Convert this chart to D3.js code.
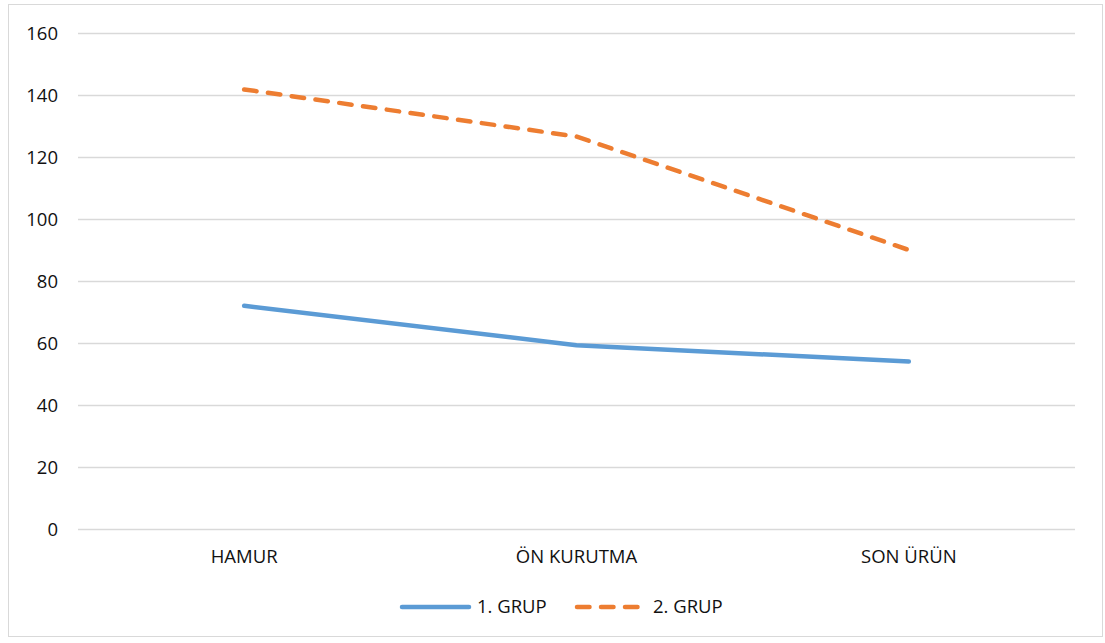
<!DOCTYPE html>
<html><head><meta charset="utf-8">
<script src="https://cdn.jsdelivr.net/npm/d3@7"></script>
<style>body{margin:0;background:#fff;} text{font-family:"Open Sans",sans-serif;fill:#111;}</style>
</head><body><svg id="c" width="1105" height="643"></svg>
<script>
const categories = ["HAMUR", "ÖN KURUTMA", "SON ÜRÜN"];
const grup1 = [72, 59.3, 54];
const grup2 = [141.8, 126.6, 90];
const yTicks = [0, 20, 40, 60, 80, 100, 120, 140, 160];
const seriesNames = ["1. GRUP", "2. GRUP"];

const svg = d3.select("#c");
svg.append("rect").attr("x", 8.5).attr("y", 4.5).attr("width", 1094).attr("height", 632)
  .attr("fill", "#fff").attr("stroke", "#d9d9d9").attr("stroke-width", 1);

const x = d3.scaleBand().domain(categories).range([78, 1075]);
const y = d3.scaleLinear().domain([0, 160]).range([529, 33]);

const g = svg.append("g");
g.selectAll("line.grid").data(yTicks).join("line")
  .attr("x1", 78).attr("x2", 1075)
  .attr("y1", d => Math.round(y(d)) + 0.5).attr("y2", d => Math.round(y(d)) + 0.5)
  .attr("stroke", "#d9d9d9").attr("stroke-width", 1.3);

const fs = "18.5px";
const yAxis = d3.axisLeft(y).tickValues(yTicks).tickSize(0).tickPadding(0);
const ya = svg.append("g").attr("transform", "translate(58,0)").call(yAxis);
ya.select(".domain").remove();
ya.selectAll("text").style("font-size", fs).attr("dy", "0.35em").attr("fill", "#111");

const xAxis = d3.axisBottom(x).tickSize(0).tickPadding(0);
const xa = svg.append("g").attr("transform", "translate(0,563)").call(xAxis);
xa.select(".domain").remove();
xa.selectAll("text").style("font-size", fs).attr("dy", "0").attr("fill", "#111");

const line = d3.line().x((d, i) => x(categories[i]) + x.bandwidth() / 2).y(d => y(d)).curve(d3.curveLinear);

svg.append("path").attr("d", line(grup1)).attr("fill", "none")
  .attr("stroke", "#5B9BD5").attr("stroke-width", 4.5).attr("stroke-linecap", "round").attr("stroke-linejoin", "round");
svg.append("path").attr("d", line(grup2)).attr("fill", "none")
  .attr("stroke", "#ED7D31").attr("stroke-width", 4.5).attr("stroke-linecap", "round").attr("stroke-linejoin", "round")
  .attr("stroke-dasharray", "12.5,11.5");

// legend
const leg = svg.append("g");
const legItems = [
  {name: seriesNames[0], color: "#5B9BD5", dash: null, x1: 402, x2: 469, tx: 477},
  {name: seriesNames[1], color: "#ED7D31", dash: "12.5,11.5", x1: 577, x2: 640, tx: 653}
];
legItems.forEach(it => {
  const l = leg.append("line").attr("x1", it.x1).attr("x2", it.x2).attr("y1", 607).attr("y2", 607)
    .attr("stroke", it.color).attr("stroke-width", 4.5).attr("stroke-linecap", "round");
  if (it.dash) l.attr("stroke-dasharray", it.dash);
  leg.append("text").attr("x", it.tx).attr("y", 607).attr("dy", "0.35em").style("font-size", fs).text(it.name);
});
</script></body></html>
